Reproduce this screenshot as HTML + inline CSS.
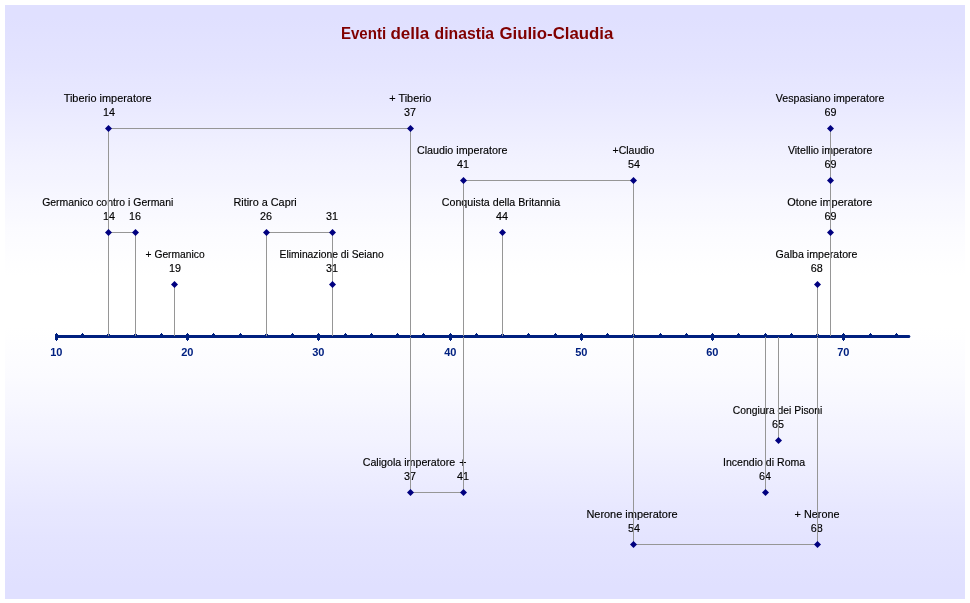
<!DOCTYPE html>
<html lang="it"><head><meta charset="utf-8"><title>Eventi della dinastia Giulio-Claudia</title>
<style>
html,body{margin:0;padding:0;background:#fff;}
body{width:970px;height:603px;overflow:hidden;position:relative;}
#panel{position:absolute;left:5px;top:5px;width:960px;height:594px;background:linear-gradient(to bottom,#e0e0ff 0.00%,#e0e0ff 2.08%,#e1e1ff 4.17%,#e2e2ff 6.25%,#e3e3ff 8.33%,#e4e4ff 10.42%,#e6e6ff 12.50%,#e7e7ff 14.58%,#e9e9ff 16.67%,#ebebff 18.75%,#ededff 20.83%,#efefff 22.92%,#f1f1ff 25.00%,#f3f3ff 27.08%,#f4f4ff 29.17%,#f6f6ff 31.25%,#f8f8ff 33.33%,#f9f9ff 35.42%,#fbfbff 37.50%,#fcfcff 39.58%,#fdfdff 41.67%,#fefeff 43.75%,#ffffff 45.83%,#ffffff 47.92%,#ffffff 50.00%,#ffffff 52.08%,#ffffff 54.17%,#fefeff 56.25%,#fdfdff 58.33%,#fcfcff 60.42%,#fbfbff 62.50%,#f9f9ff 64.58%,#f8f8ff 66.67%,#f6f6ff 68.75%,#f4f4ff 70.83%,#f3f3ff 72.92%,#f1f1ff 75.00%,#efefff 77.08%,#ededff 79.17%,#ebebff 81.25%,#e9e9ff 83.33%,#e7e7ff 85.42%,#e6e6ff 87.50%,#e4e4ff 89.58%,#e3e3ff 91.67%,#e2e2ff 93.75%,#e1e1ff 95.83%,#e0e0ff 97.92%,#e0e0ff 100.00%);}
svg{position:absolute;left:0;top:0;}
text{white-space:pre;}
.lbl{font-family:"Liberation Sans",sans-serif;font-size:11px;fill:#000000;stroke:#000000;stroke-width:0.15px;}
.axl{font-family:"Liberation Sans",sans-serif;font-size:11px;font-weight:bold;fill:#002080;text-anchor:middle;}
.ttl{font-family:"Liberation Sans",sans-serif;font-size:16px;font-weight:bold;fill:#800000;}
</style></head><body>
<div id="panel"></div>
<svg width="970" height="603" viewBox="0 0 970 603">
<g class="ttl"><text y="38.6"><tspan x="340.90" textLength="45.20" lengthAdjust="spacingAndGlyphs">Eventi</tspan> <tspan x="390.40" textLength="38.80" lengthAdjust="spacingAndGlyphs">della</tspan> <tspan x="434.60" textLength="59.40" lengthAdjust="spacingAndGlyphs">dinastia</tspan> <tspan x="499.40" textLength="114.00" lengthAdjust="spacingAndGlyphs">Giulio-Claudia</tspan></text></g>
<g class="lbl">
<text x="63.70" y="102" textLength="88.00" lengthAdjust="spacingAndGlyphs">Tiberio imperatore</text>
<text x="103" y="116" textLength="12" lengthAdjust="spacingAndGlyphs">14</text>
<text x="389.30" y="102" textLength="42.00" lengthAdjust="spacingAndGlyphs">+ Tiberio</text>
<text x="404" y="116" textLength="12" lengthAdjust="spacingAndGlyphs">37</text>
<text x="775.80" y="102" textLength="108.50" lengthAdjust="spacingAndGlyphs">Vespasiano imperatore</text>
<text x="824.5" y="116" textLength="12" lengthAdjust="spacingAndGlyphs">69</text>
<text x="416.90" y="154" textLength="90.70" lengthAdjust="spacingAndGlyphs">Claudio imperatore</text>
<text x="457" y="168" textLength="12" lengthAdjust="spacingAndGlyphs">41</text>
<text x="612.50" y="154" textLength="41.80" lengthAdjust="spacingAndGlyphs">+Claudio</text>
<text x="628" y="168" textLength="12" lengthAdjust="spacingAndGlyphs">54</text>
<text x="787.90" y="154" textLength="84.50" lengthAdjust="spacingAndGlyphs">Vitellio imperatore</text>
<text x="824.5" y="168" textLength="12" lengthAdjust="spacingAndGlyphs">69</text>
<text x="42.20" y="206" textLength="131.10" lengthAdjust="spacingAndGlyphs">Germanico contro i Germani</text>
<text x="103" y="220" textLength="12" lengthAdjust="spacingAndGlyphs">14</text>
<text x="129" y="220" textLength="12" lengthAdjust="spacingAndGlyphs">16</text>
<text x="233.40" y="206" textLength="63.30" lengthAdjust="spacingAndGlyphs">Ritiro a Capri</text>
<text x="260" y="220" textLength="12" lengthAdjust="spacingAndGlyphs">26</text>
<text x="326" y="220" textLength="12" lengthAdjust="spacingAndGlyphs">31</text>
<text x="441.80" y="206" textLength="118.50" lengthAdjust="spacingAndGlyphs">Conquista della Britannia</text>
<text x="496" y="220" textLength="12" lengthAdjust="spacingAndGlyphs">44</text>
<text x="787.20" y="206" textLength="85.20" lengthAdjust="spacingAndGlyphs">Otone imperatore</text>
<text x="824.5" y="220" textLength="12" lengthAdjust="spacingAndGlyphs">69</text>
<text x="145.60" y="258" textLength="59.00" lengthAdjust="spacingAndGlyphs">+ Germanico</text>
<text x="169" y="272" textLength="12" lengthAdjust="spacingAndGlyphs">19</text>
<text x="279.60" y="258" textLength="104.10" lengthAdjust="spacingAndGlyphs">Eliminazione di Seiano</text>
<text x="326" y="272" textLength="12" lengthAdjust="spacingAndGlyphs">31</text>
<text x="775.60" y="258" textLength="81.90" lengthAdjust="spacingAndGlyphs">Galba imperatore</text>
<text x="810.8" y="272" textLength="12" lengthAdjust="spacingAndGlyphs">68</text>
<text x="732.80" y="414" textLength="89.60" lengthAdjust="spacingAndGlyphs">Congiura dei Pisoni</text>
<text x="772" y="428" textLength="12" lengthAdjust="spacingAndGlyphs">65</text>
<text x="362.70" y="466" textLength="92.50" lengthAdjust="spacingAndGlyphs">Caligola imperatore</text>
<text x="404" y="480" textLength="12" lengthAdjust="spacingAndGlyphs">37</text>
<text x="459.30" y="467" style="font-size:12.5px">+</text>
<text x="457" y="480" textLength="12" lengthAdjust="spacingAndGlyphs">41</text>
<text x="723.00" y="466" textLength="82.20" lengthAdjust="spacingAndGlyphs">Incendio di Roma</text>
<text x="759" y="480" textLength="12" lengthAdjust="spacingAndGlyphs">64</text>
<text x="586.40" y="518" textLength="91.30" lengthAdjust="spacingAndGlyphs">Nerone imperatore</text>
<text x="628" y="532" textLength="12" lengthAdjust="spacingAndGlyphs">54</text>
<text x="794.60" y="518" textLength="44.90" lengthAdjust="spacingAndGlyphs">+ Nerone</text>
<text x="810.8" y="532" textLength="12" lengthAdjust="spacingAndGlyphs">68</text>
</g>
<g class="axis" fill="#00207f">
<rect x="55" y="335" width="854" height="3" shape-rendering="crispEdges"/>
<path d="M909 335h0.5l1 1.5l-1 1.5h-0.5z"/>
<path shape-rendering="crispEdges" d="M55 334h3v6h-3zM56 333h1v8h-1zM81 334h3v1h-3zM82 333h1v2h-1zM107 334h3v1h-3zM108 333h1v2h-1zM134 334h3v1h-3zM135 333h1v2h-1zM160 334h3v1h-3zM161 333h1v2h-1zM186 334h3v6h-3zM187 333h1v8h-1zM212 334h3v1h-3zM213 333h1v2h-1zM239 334h3v1h-3zM240 333h1v2h-1zM265 334h3v1h-3zM266 333h1v2h-1zM291 334h3v1h-3zM292 333h1v2h-1zM317 334h3v6h-3zM318 333h1v8h-1zM344 334h3v1h-3zM345 333h1v2h-1zM370 334h3v1h-3zM371 333h1v2h-1zM396 334h3v1h-3zM397 333h1v2h-1zM422 334h3v1h-3zM423 333h1v2h-1zM449 334h3v6h-3zM450 333h1v8h-1zM475 334h3v1h-3zM476 333h1v2h-1zM501 334h3v1h-3zM502 333h1v2h-1zM527 334h3v1h-3zM528 333h1v2h-1zM554 334h3v1h-3zM555 333h1v2h-1zM580 334h3v6h-3zM581 333h1v8h-1zM606 334h3v1h-3zM607 333h1v2h-1zM632 334h3v1h-3zM633 333h1v2h-1zM659 334h3v1h-3zM660 333h1v2h-1zM685 334h3v1h-3zM686 333h1v2h-1zM711 334h3v6h-3zM712 333h1v8h-1zM737 334h3v1h-3zM738 333h1v2h-1zM764 334h3v1h-3zM765 333h1v2h-1zM790 334h3v1h-3zM791 333h1v2h-1zM816 334h3v1h-3zM817 333h1v2h-1zM842 334h3v6h-3zM843 333h1v8h-1zM869 334h3v1h-3zM870 333h1v2h-1zM895 334h3v1h-3zM896 333h1v2h-1z"/>
</g>
<g class="axl">
<text x="56.3" y="356">10</text>
<text x="187.3" y="356">20</text>
<text x="318.3" y="356">30</text>
<text x="450.3" y="356">40</text>
<text x="581.3" y="356">50</text>
<text x="712.3" y="356">60</text>
<text x="843.3" y="356">70</text>
</g>
<g class="lines" fill="#969696" shape-rendering="crispEdges">
<rect x="108" y="128" width="1" height="208"/>
<rect x="410" y="128" width="1" height="208"/>
<rect x="108" y="128" width="303" height="1"/>
<rect x="830" y="128" width="1" height="208"/>
<rect x="463" y="180" width="1" height="156"/>
<rect x="633" y="180" width="1" height="156"/>
<rect x="463" y="180" width="171" height="1"/>
<rect x="830" y="180" width="1" height="156"/>
<rect x="108" y="232" width="1" height="104"/>
<rect x="135" y="232" width="1" height="104"/>
<rect x="108" y="232" width="28" height="1"/>
<rect x="266" y="232" width="1" height="104"/>
<rect x="332" y="232" width="1" height="104"/>
<rect x="266" y="232" width="67" height="1"/>
<rect x="502" y="232" width="1" height="104"/>
<rect x="830" y="232" width="1" height="104"/>
<rect x="174" y="284" width="1" height="52"/>
<rect x="332" y="284" width="1" height="52"/>
<rect x="817" y="284" width="1" height="52"/>
<rect x="778" y="337" width="1" height="104"/>
<rect x="410" y="337" width="1" height="156"/>
<rect x="463" y="337" width="1" height="156"/>
<rect x="410" y="492" width="54" height="1"/>
<rect x="765" y="337" width="1" height="156"/>
<rect x="633" y="337" width="1" height="208"/>
<rect x="817" y="337" width="1" height="208"/>
<rect x="633" y="544" width="185" height="1"/>
</g>
<g class="marks" fill="#000080">
<path d="M108.5 125.0l3.5 3.5l-3.5 3.5l-3.5 -3.5z"/>
<path d="M410.5 125.0l3.5 3.5l-3.5 3.5l-3.5 -3.5z"/>
<path d="M830.5 125.0l3.5 3.5l-3.5 3.5l-3.5 -3.5z"/>
<path d="M463.5 177.0l3.5 3.5l-3.5 3.5l-3.5 -3.5z"/>
<path d="M633.5 177.0l3.5 3.5l-3.5 3.5l-3.5 -3.5z"/>
<path d="M830.5 177.0l3.5 3.5l-3.5 3.5l-3.5 -3.5z"/>
<path d="M108.5 229.0l3.5 3.5l-3.5 3.5l-3.5 -3.5z"/>
<path d="M135.5 229.0l3.5 3.5l-3.5 3.5l-3.5 -3.5z"/>
<path d="M266.5 229.0l3.5 3.5l-3.5 3.5l-3.5 -3.5z"/>
<path d="M332.5 229.0l3.5 3.5l-3.5 3.5l-3.5 -3.5z"/>
<path d="M502.5 229.0l3.5 3.5l-3.5 3.5l-3.5 -3.5z"/>
<path d="M830.5 229.0l3.5 3.5l-3.5 3.5l-3.5 -3.5z"/>
<path d="M174.5 281.0l3.5 3.5l-3.5 3.5l-3.5 -3.5z"/>
<path d="M332.5 281.0l3.5 3.5l-3.5 3.5l-3.5 -3.5z"/>
<path d="M817.5 281.0l3.5 3.5l-3.5 3.5l-3.5 -3.5z"/>
<path d="M778.5 437.0l3.5 3.5l-3.5 3.5l-3.5 -3.5z"/>
<path d="M410.5 489.0l3.5 3.5l-3.5 3.5l-3.5 -3.5z"/>
<path d="M463.5 489.0l3.5 3.5l-3.5 3.5l-3.5 -3.5z"/>
<path d="M765.5 489.0l3.5 3.5l-3.5 3.5l-3.5 -3.5z"/>
<path d="M633.5 541.0l3.5 3.5l-3.5 3.5l-3.5 -3.5z"/>
<path d="M817.5 541.0l3.5 3.5l-3.5 3.5l-3.5 -3.5z"/>
</g>
</svg>
</body></html>
